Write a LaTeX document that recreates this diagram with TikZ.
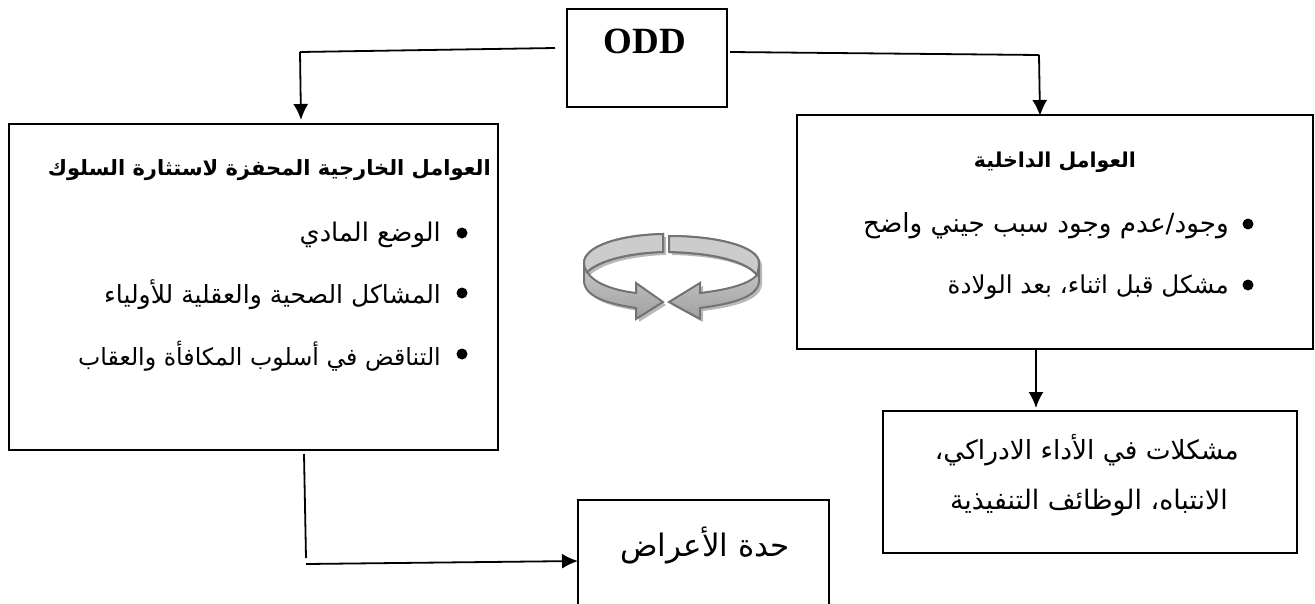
\documentclass[tikz,border=0pt]{standalone}
\usepackage{fontspec}
\usepackage{tikz}
\usetikzlibrary{arrows.meta}
\setmainfont{Liberation Serif}
\newfontfamily\arabicfont[Script=Arabic]{DejaVu Sans}
\TeXXeTstate=1
\tikzset{
  boxnode/.style={draw, line width=2pt, inner sep=0pt, anchor=north west},
  txtnode/.style={inner sep=0pt, anchor=east, font=\arabicfont\fontsize{#1}{#1}\selectfont},
  txtnode/.default=20,
  dotnode/.style={circle, fill=black, inner sep=0pt, minimum size=11pt},
  flow/.style={line width=1.8pt},
  flowarrow/.style={line width=1.8pt, -{Latex[length=16pt,width=15pt]}},
  bandtop/.style={draw=black!55, line width=2pt, fill=gray!40},
  bandlow/.style={draw=black!55, line width=2pt, top color=gray!25, bottom color=gray!75},
  bandshadow/.style={fill=gray!55, draw=none}
}
\newcommand{\leftband}{(663,234) .. controls (620,235) and (584,246) .. (584,263) -- (584,282) .. controls (586,298) and (610,304) .. (636,308) -- (636,319) -- (663,302) -- (636,283) -- (636,293) .. controls (612,290) and (594,283) .. (587,272) .. controls (600,260) and (630,253) .. (663,252) -- cycle}
\newcommand{\rightband}{(669,236) .. controls (715,236) and (759,246) .. (759,263) -- (759,282) .. controls (757,298) and (730,304) .. (700,308) -- (700,319) -- (669,302) -- (700,283) -- (700,293) .. controls (725,290) and (748,285) .. (757,275) .. controls (745,260) and (710,253) .. (669,252) -- cycle}
\begin{document}
\begin{tikzpicture}[x=1pt, y=-1pt]
\useasboundingbox (0,0) rectangle (1315,603);
% boxes
\node[boxnode, minimum width=160pt, minimum height=98pt] (odd) at (566,8) {};
\node[boxnode, minimum width=489pt, minimum height=326pt] (outer) at (8,123) {};
\node[boxnode, minimum width=516pt, minimum height=234pt] (inner) at (796,114) {};
\node[boxnode, minimum width=414pt, minimum height=142pt] (cogn) at (882,410) {};
% top line of the symptoms box, cut by the page
\coordinate (sevA) at (578,620);
\coordinate (sevB) at (578,500);
\coordinate (sevC) at (829,500);
\coordinate (sevD) at (829,620);
\draw[line width=2pt] (sevA) -- (sevB) -- (sevC) -- (sevD);
% texts
\node[font=\bfseries\fontsize{37}{37}\selectfont, inner sep=0pt] (oddtxt) at (645,41) {ODD};
\node[txtnode=21] (outertitle) at (491,170) {\bfseries\beginR العوامل الخارجية المحفزة لاستثارة السلوك\endR};
\node[txtnode=25.7] (outera) at (441,235) {\beginR الوضع المادي\endR};
\node[txtnode=25] (outerb) at (441,295) {\beginR المشاكل الصحية والعقلية للأولياء\endR};
\node[txtnode=23.7] (outerc) at (441,356) {\beginR التناقض في أسلوب المكافأة والعقاب\endR};
\node[dotnode] (dota) at (462,233) {};
\node[dotnode] (dotb) at (462,293) {};
\node[dotnode] (dotc) at (462,354) {};
\node[txtnode=20.5] (innertitle) at (1136,162) {\bfseries\beginR العوامل الداخلية\endR};
\node[txtnode=26.3] (innera) at (1229,226) {\beginR وجود/عدم وجود سبب جيني واضح\endR};
\node[txtnode=24.6] (innerb) at (1229,287) {\beginR مشكل قبل اثناء، بعد الولادة\endR};
\node[dotnode] (dotd) at (1248,224) {};
\node[dotnode] (dote) at (1248,285) {};
\node[txtnode=26.4] (cogna) at (1239,450) {\beginR مشكلات في الأداء الادراكي،\endR};
\node[txtnode=26.8] (cognb) at (1228,503) {\beginR الانتباه، الوظائف التنفيذية\endR};
\node[txtnode=31] (sevtxt) at (790,545) {\beginR حدة الأعراض\endR};
% connectors
\coordinate (oddl) at (555,48);
\coordinate (kneel) at (300,52);
\coordinate (oddr) at (730,52);
\coordinate (kneer) at (1039,55);
\coordinate (outerin) at (301,120);
\coordinate (innerin) at (1040,116);
\coordinate (innerout) at (1036,349);
\coordinate (cognin) at (1036,408);
\coordinate (outerout) at (304,454);
\coordinate (kneeb) at (306,558);
\coordinate (kneec) at (306,564);
\coordinate (sevin) at (578,561);
\draw[flow] (oddl) -- (kneel);
\draw[flowarrow] (kneel) -- (outerin);
\draw[flow] (oddr) -- (kneer);
\draw[flowarrow] (kneer) -- (innerin);
\draw[flowarrow] (innerout) -- (cognin);
\draw[flow] (outerout) -- (kneeb);
\draw[flowarrow] (kneec) -- (sevin);
% circular arrows
\begin{scope}[shift={(3,3)}]
\fill[bandshadow] \leftband;
\fill[bandshadow] \rightband;
\end{scope}
\path[bandlow] \leftband;
\path[bandlow] \rightband;
\path[bandtop] (663,234) .. controls (620,235) and (584,246) .. (584,263) .. controls (584,266) and (585,269) .. (587,272) .. controls (600,260) and (630,253) .. (663,252) -- cycle;
\path[bandtop] (669,236) .. controls (715,236) and (759,246) .. (759,263) .. controls (759,267) and (758,271) .. (757,275) .. controls (745,260) and (710,253) .. (669,252) -- cycle;
\end{tikzpicture}
\end{document}
